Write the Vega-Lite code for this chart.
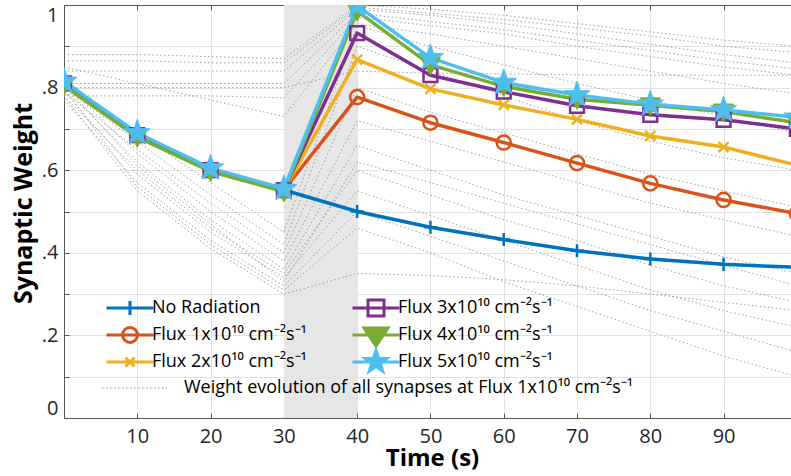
{
  "$schema": "https://vega.github.io/schema/vega-lite/v6.json",
  "width": 727,
  "height": 413,
  "autosize": {"type": "none"},
  "padding": {"left": 64, "top": 5, "right": 0, "bottom": 58},
  "background": "white",
  "config": {"font": "Open Sans", "view": {"stroke": null}},
  "datasets": {
    "main": [
      {"s": "No Radiation", "t": 0, "w": 0.81}, {"s": "No Radiation", "t": 10, "w": 0.685}, {"s": "No Radiation", "t": 20, "w": 0.6}, {"s": "No Radiation", "t": 30, "w": 0.552}, {"s": "No Radiation", "t": 40, "w": 0.5}, {"s": "No Radiation", "t": 50, "w": 0.462}, {"s": "No Radiation", "t": 60, "w": 0.432}, {"s": "No Radiation", "t": 70, "w": 0.405}, {"s": "No Radiation", "t": 80, "w": 0.385}, {"s": "No Radiation", "t": 90, "w": 0.372}, {"s": "No Radiation", "t": 100, "w": 0.365},
      {"s": "Flux 1x10¹⁰ cm⁻²s⁻¹", "t": 0, "w": 0.81}, {"s": "Flux 1x10¹⁰ cm⁻²s⁻¹", "t": 10, "w": 0.685}, {"s": "Flux 1x10¹⁰ cm⁻²s⁻¹", "t": 20, "w": 0.6}, {"s": "Flux 1x10¹⁰ cm⁻²s⁻¹", "t": 30, "w": 0.552}, {"s": "Flux 1x10¹⁰ cm⁻²s⁻¹", "t": 40, "w": 0.777}, {"s": "Flux 1x10¹⁰ cm⁻²s⁻¹", "t": 50, "w": 0.715}, {"s": "Flux 1x10¹⁰ cm⁻²s⁻¹", "t": 60, "w": 0.667}, {"s": "Flux 1x10¹⁰ cm⁻²s⁻¹", "t": 70, "w": 0.617}, {"s": "Flux 1x10¹⁰ cm⁻²s⁻¹", "t": 80, "w": 0.568}, {"s": "Flux 1x10¹⁰ cm⁻²s⁻¹", "t": 90, "w": 0.528}, {"s": "Flux 1x10¹⁰ cm⁻²s⁻¹", "t": 100, "w": 0.495},
      {"s": "Flux 2x10¹⁰ cm⁻²s⁻¹", "t": 0, "w": 0.81}, {"s": "Flux 2x10¹⁰ cm⁻²s⁻¹", "t": 10, "w": 0.685}, {"s": "Flux 2x10¹⁰ cm⁻²s⁻¹", "t": 20, "w": 0.6}, {"s": "Flux 2x10¹⁰ cm⁻²s⁻¹", "t": 30, "w": 0.552}, {"s": "Flux 2x10¹⁰ cm⁻²s⁻¹", "t": 40, "w": 0.868}, {"s": "Flux 2x10¹⁰ cm⁻²s⁻¹", "t": 50, "w": 0.797}, {"s": "Flux 2x10¹⁰ cm⁻²s⁻¹", "t": 60, "w": 0.758}, {"s": "Flux 2x10¹⁰ cm⁻²s⁻¹", "t": 70, "w": 0.723}, {"s": "Flux 2x10¹⁰ cm⁻²s⁻¹", "t": 80, "w": 0.683}, {"s": "Flux 2x10¹⁰ cm⁻²s⁻¹", "t": 90, "w": 0.656}, {"s": "Flux 2x10¹⁰ cm⁻²s⁻¹", "t": 100, "w": 0.612},
      {"s": "Flux 3x10¹⁰ cm⁻²s⁻¹", "t": 0, "w": 0.81}, {"s": "Flux 3x10¹⁰ cm⁻²s⁻¹", "t": 10, "w": 0.685}, {"s": "Flux 3x10¹⁰ cm⁻²s⁻¹", "t": 20, "w": 0.6}, {"s": "Flux 3x10¹⁰ cm⁻²s⁻¹", "t": 30, "w": 0.552}, {"s": "Flux 3x10¹⁰ cm⁻²s⁻¹", "t": 40, "w": 0.932}, {"s": "Flux 3x10¹⁰ cm⁻²s⁻¹", "t": 50, "w": 0.83}, {"s": "Flux 3x10¹⁰ cm⁻²s⁻¹", "t": 60, "w": 0.79}, {"s": "Flux 3x10¹⁰ cm⁻²s⁻¹", "t": 70, "w": 0.756}, {"s": "Flux 3x10¹⁰ cm⁻²s⁻¹", "t": 80, "w": 0.734}, {"s": "Flux 3x10¹⁰ cm⁻²s⁻¹", "t": 90, "w": 0.722}, {"s": "Flux 3x10¹⁰ cm⁻²s⁻¹", "t": 100, "w": 0.7},
      {"s": "Flux 4x10¹⁰ cm⁻²s⁻¹", "t": 0, "w": 0.805}, {"s": "Flux 4x10¹⁰ cm⁻²s⁻¹", "t": 10, "w": 0.68}, {"s": "Flux 4x10¹⁰ cm⁻²s⁻¹", "t": 20, "w": 0.597}, {"s": "Flux 4x10¹⁰ cm⁻²s⁻¹", "t": 30, "w": 0.548}, {"s": "Flux 4x10¹⁰ cm⁻²s⁻¹", "t": 40, "w": 0.985}, {"s": "Flux 4x10¹⁰ cm⁻²s⁻¹", "t": 50, "w": 0.855}, {"s": "Flux 4x10¹⁰ cm⁻²s⁻¹", "t": 60, "w": 0.803}, {"s": "Flux 4x10¹⁰ cm⁻²s⁻¹", "t": 70, "w": 0.772}, {"s": "Flux 4x10¹⁰ cm⁻²s⁻¹", "t": 80, "w": 0.757}, {"s": "Flux 4x10¹⁰ cm⁻²s⁻¹", "t": 90, "w": 0.742}, {"s": "Flux 4x10¹⁰ cm⁻²s⁻¹", "t": 100, "w": 0.715},
      {"s": "Flux 5x10¹⁰ cm⁻²s⁻¹", "t": 0, "w": 0.815}, {"s": "Flux 5x10¹⁰ cm⁻²s⁻¹", "t": 10, "w": 0.69}, {"s": "Flux 5x10¹⁰ cm⁻²s⁻¹", "t": 20, "w": 0.605}, {"s": "Flux 5x10¹⁰ cm⁻²s⁻¹", "t": 30, "w": 0.555}, {"s": "Flux 5x10¹⁰ cm⁻²s⁻¹", "t": 40, "w": 0.998}, {"s": "Flux 5x10¹⁰ cm⁻²s⁻¹", "t": 50, "w": 0.872}, {"s": "Flux 5x10¹⁰ cm⁻²s⁻¹", "t": 60, "w": 0.812}, {"s": "Flux 5x10¹⁰ cm⁻²s⁻¹", "t": 70, "w": 0.782}, {"s": "Flux 5x10¹⁰ cm⁻²s⁻¹", "t": 80, "w": 0.76}, {"s": "Flux 5x10¹⁰ cm⁻²s⁻¹", "t": 90, "w": 0.746}, {"s": "Flux 5x10¹⁰ cm⁻²s⁻¹", "t": 100, "w": 0.728}
    ],
    "syn": [
      {"id": "U1", "t": 0, "w": 0.88}, {"id": "U1", "t": 10, "w": 0.88}, {"id": "U1", "t": 20, "w": 0.875}, {"id": "U1", "t": 30, "w": 0.87}, {"id": "U1", "t": 40, "w": 1.0}, {"id": "U1", "t": 50, "w": 0.99}, {"id": "U1", "t": 60, "w": 0.975}, {"id": "U1", "t": 70, "w": 0.955}, {"id": "U1", "t": 80, "w": 0.935}, {"id": "U1", "t": 90, "w": 0.915}, {"id": "U1", "t": 100, "w": 0.9},
      {"id": "U2", "t": 0, "w": 0.865}, {"id": "U2", "t": 10, "w": 0.865}, {"id": "U2", "t": 20, "w": 0.86}, {"id": "U2", "t": 30, "w": 0.86}, {"id": "U2", "t": 40, "w": 0.995}, {"id": "U2", "t": 50, "w": 0.98}, {"id": "U2", "t": 60, "w": 0.965}, {"id": "U2", "t": 70, "w": 0.945}, {"id": "U2", "t": 80, "w": 0.925}, {"id": "U2", "t": 90, "w": 0.9}, {"id": "U2", "t": 100, "w": 0.885},
      {"id": "U3", "t": 0, "w": 0.84}, {"id": "U3", "t": 10, "w": 0.84}, {"id": "U3", "t": 20, "w": 0.84}, {"id": "U3", "t": 30, "w": 0.84}, {"id": "U3", "t": 40, "w": 0.99}, {"id": "U3", "t": 50, "w": 0.975}, {"id": "U3", "t": 60, "w": 0.955}, {"id": "U3", "t": 70, "w": 0.93}, {"id": "U3", "t": 80, "w": 0.905}, {"id": "U3", "t": 90, "w": 0.88}, {"id": "U3", "t": 100, "w": 0.86},
      {"id": "U4", "t": 0, "w": 0.81}, {"id": "U4", "t": 10, "w": 0.81}, {"id": "U4", "t": 20, "w": 0.81}, {"id": "U4", "t": 30, "w": 0.81}, {"id": "U4", "t": 40, "w": 0.98}, {"id": "U4", "t": 50, "w": 0.96}, {"id": "U4", "t": 60, "w": 0.94}, {"id": "U4", "t": 70, "w": 0.915}, {"id": "U4", "t": 80, "w": 0.89}, {"id": "U4", "t": 90, "w": 0.865}, {"id": "U4", "t": 100, "w": 0.845},
      {"id": "U5", "t": 0, "w": 0.78}, {"id": "U5", "t": 10, "w": 0.78}, {"id": "U5", "t": 20, "w": 0.78}, {"id": "U5", "t": 30, "w": 0.775}, {"id": "U5", "t": 40, "w": 0.97}, {"id": "U5", "t": 50, "w": 0.95}, {"id": "U5", "t": 60, "w": 0.93}, {"id": "U5", "t": 70, "w": 0.9}, {"id": "U5", "t": 80, "w": 0.875}, {"id": "U5", "t": 90, "w": 0.85}, {"id": "U5", "t": 100, "w": 0.83},
      {"id": "U6", "t": 0, "w": 0.85}, {"id": "U6", "t": 10, "w": 0.81}, {"id": "U6", "t": 20, "w": 0.77}, {"id": "U6", "t": 30, "w": 0.73}, {"id": "U6", "t": 40, "w": 0.955}, {"id": "U6", "t": 50, "w": 0.93}, {"id": "U6", "t": 60, "w": 0.9}, {"id": "U6", "t": 70, "w": 0.87}, {"id": "U6", "t": 80, "w": 0.84}, {"id": "U6", "t": 90, "w": 0.81}, {"id": "U6", "t": 100, "w": 0.785},
      {"id": "U7", "t": 0, "w": 0.8}, {"id": "U7", "t": 10, "w": 0.8}, {"id": "U7", "t": 20, "w": 0.8}, {"id": "U7", "t": 30, "w": 0.8}, {"id": "U7", "t": 40, "w": 0.84}, {"id": "U7", "t": 50, "w": 0.835}, {"id": "U7", "t": 60, "w": 0.833}, {"id": "U7", "t": 70, "w": 0.831}, {"id": "U7", "t": 80, "w": 0.83}, {"id": "U7", "t": 90, "w": 0.83}, {"id": "U7", "t": 100, "w": 0.83},
      {"id": "L1", "t": 0, "w": 0.82}, {"id": "L1", "t": 10, "w": 0.69}, {"id": "L1", "t": 20, "w": 0.57}, {"id": "L1", "t": 30, "w": 0.45}, {"id": "L1", "t": 40, "w": 0.95}, {"id": "L1", "t": 50, "w": 0.9}, {"id": "L1", "t": 60, "w": 0.855}, {"id": "L1", "t": 70, "w": 0.81}, {"id": "L1", "t": 80, "w": 0.77}, {"id": "L1", "t": 90, "w": 0.73}, {"id": "L1", "t": 100, "w": 0.69},
      {"id": "L2", "t": 0, "w": 0.8}, {"id": "L2", "t": 10, "w": 0.67}, {"id": "L2", "t": 20, "w": 0.54}, {"id": "L2", "t": 30, "w": 0.42}, {"id": "L2", "t": 40, "w": 0.9}, {"id": "L2", "t": 50, "w": 0.84}, {"id": "L2", "t": 60, "w": 0.78}, {"id": "L2", "t": 70, "w": 0.72}, {"id": "L2", "t": 80, "w": 0.67}, {"id": "L2", "t": 90, "w": 0.63}, {"id": "L2", "t": 100, "w": 0.6},
      {"id": "L3", "t": 0, "w": 0.79}, {"id": "L3", "t": 10, "w": 0.65}, {"id": "L3", "t": 20, "w": 0.52}, {"id": "L3", "t": 30, "w": 0.4}, {"id": "L3", "t": 40, "w": 0.8}, {"id": "L3", "t": 50, "w": 0.74}, {"id": "L3", "t": 60, "w": 0.69}, {"id": "L3", "t": 70, "w": 0.64}, {"id": "L3", "t": 80, "w": 0.59}, {"id": "L3", "t": 90, "w": 0.55}, {"id": "L3", "t": 100, "w": 0.51},
      {"id": "L4", "t": 0, "w": 0.81}, {"id": "L4", "t": 10, "w": 0.64}, {"id": "L4", "t": 20, "w": 0.5}, {"id": "L4", "t": 30, "w": 0.38}, {"id": "L4", "t": 40, "w": 0.72}, {"id": "L4", "t": 50, "w": 0.67}, {"id": "L4", "t": 60, "w": 0.62}, {"id": "L4", "t": 70, "w": 0.57}, {"id": "L4", "t": 80, "w": 0.52}, {"id": "L4", "t": 90, "w": 0.48}, {"id": "L4", "t": 100, "w": 0.44},
      {"id": "L5", "t": 0, "w": 0.8}, {"id": "L5", "t": 10, "w": 0.62}, {"id": "L5", "t": 20, "w": 0.48}, {"id": "L5", "t": 30, "w": 0.36}, {"id": "L5", "t": 40, "w": 0.66}, {"id": "L5", "t": 50, "w": 0.6}, {"id": "L5", "t": 60, "w": 0.54}, {"id": "L5", "t": 70, "w": 0.49}, {"id": "L5", "t": 80, "w": 0.44}, {"id": "L5", "t": 90, "w": 0.39}, {"id": "L5", "t": 100, "w": 0.35},
      {"id": "L6", "t": 0, "w": 0.78}, {"id": "L6", "t": 10, "w": 0.6}, {"id": "L6", "t": 20, "w": 0.46}, {"id": "L6", "t": 30, "w": 0.35}, {"id": "L6", "t": 40, "w": 0.6}, {"id": "L6", "t": 50, "w": 0.54}, {"id": "L6", "t": 60, "w": 0.48}, {"id": "L6", "t": 70, "w": 0.43}, {"id": "L6", "t": 80, "w": 0.37}, {"id": "L6", "t": 90, "w": 0.32}, {"id": "L6", "t": 100, "w": 0.28},
      {"id": "L7", "t": 0, "w": 0.79}, {"id": "L7", "t": 10, "w": 0.59}, {"id": "L7", "t": 20, "w": 0.45}, {"id": "L7", "t": 30, "w": 0.34}, {"id": "L7", "t": 40, "w": 0.55}, {"id": "L7", "t": 50, "w": 0.49}, {"id": "L7", "t": 60, "w": 0.43}, {"id": "L7", "t": 70, "w": 0.37}, {"id": "L7", "t": 80, "w": 0.31}, {"id": "L7", "t": 90, "w": 0.26}, {"id": "L7", "t": 100, "w": 0.22},
      {"id": "L8", "t": 0, "w": 0.77}, {"id": "L8", "t": 10, "w": 0.57}, {"id": "L8", "t": 20, "w": 0.43}, {"id": "L8", "t": 30, "w": 0.32}, {"id": "L8", "t": 40, "w": 0.5}, {"id": "L8", "t": 50, "w": 0.44}, {"id": "L8", "t": 60, "w": 0.38}, {"id": "L8", "t": 70, "w": 0.32}, {"id": "L8", "t": 80, "w": 0.26}, {"id": "L8", "t": 90, "w": 0.21}, {"id": "L8", "t": 100, "w": 0.16},
      {"id": "L9", "t": 0, "w": 0.8}, {"id": "L9", "t": 10, "w": 0.56}, {"id": "L9", "t": 20, "w": 0.42}, {"id": "L9", "t": 30, "w": 0.31}, {"id": "L9", "t": 40, "w": 0.46}, {"id": "L9", "t": 50, "w": 0.4}, {"id": "L9", "t": 60, "w": 0.33}, {"id": "L9", "t": 70, "w": 0.27}, {"id": "L9", "t": 80, "w": 0.21}, {"id": "L9", "t": 90, "w": 0.15}, {"id": "L9", "t": 100, "w": 0.1},
      {"id": "L10", "t": 0, "w": 0.78}, {"id": "L10", "t": 10, "w": 0.55}, {"id": "L10", "t": 20, "w": 0.41}, {"id": "L10", "t": 30, "w": 0.3}, {"id": "L10", "t": 40, "w": 0.35}, {"id": "L10", "t": 50, "w": 0.345}, {"id": "L10", "t": 60, "w": 0.335}, {"id": "L10", "t": 70, "w": 0.32}, {"id": "L10", "t": 80, "w": 0.3}, {"id": "L10", "t": 90, "w": 0.28}, {"id": "L10", "t": 100, "w": 0.26},
      {"id": "L11", "t": 0, "w": 0.81}, {"id": "L11", "t": 10, "w": 0.61}, {"id": "L11", "t": 20, "w": 0.47}, {"id": "L11", "t": 30, "w": 0.33}, {"id": "L11", "t": 40, "w": 0.62}, {"id": "L11", "t": 50, "w": 0.57}, {"id": "L11", "t": 60, "w": 0.52}, {"id": "L11", "t": 70, "w": 0.47}, {"id": "L11", "t": 80, "w": 0.42}, {"id": "L11", "t": 90, "w": 0.37}, {"id": "L11", "t": 100, "w": 0.32}
    ]
  },
  "resolve": {"axis": {"x": "independent"}},
  "layer": [
    {
      "data": {"values": [{"start": 30, "end": 40}]},
      "mark": {"type": "rect", "color": "#e6e6e6"},
      "encoding": {
        "x": {"field": "start", "type": "quantitative", "scale": {"domain": [0, 99.2], "nice": false, "zero": false},
          "axis": {"orient": "top", "values": [10, 20, 30, 40, 50, 60, 70, 80, 90], "labels": false, "ticks": true, "tickSize": -5, "tickColor": "#555", "domainColor": "#555", "grid": false, "title": null}},
        "x2": {"field": "end"}
      }
    },
    {
      "data": {"name": "syn"},
      "mark": {"type": "line", "clip": true, "color": "#8a8a8a", "strokeWidth": 1, "opacity": 0.8},
      "encoding": {
        "x": {"field": "t", "type": "quantitative", "scale": {"domain": [0, 99.2], "nice": false, "zero": false},
          "axis": {"orient": "bottom", "values": [0, 10, 20, 30, 40, 50, 60, 70, 80, 90], "labelExpr": "datum.value == 0 ? '' : datum.label", "labelFlush": false, "labelOverlap": false,
            "title": "Time (s)", "titleX": 368, "titleY": 47, "titleBaseline": "alphabetic", "titleFontSize": 24, "titleFontWeight": "bold", "titleColor": "#000", "titleFont": "Open Sans",
            "labelFont": "Open Sans", "labelFontSize": 20, "labelColor": "#262626", "labelPadding": 13, "tickSize": -5, "tickColor": "#555", "domainColor": "#555", "grid": true, "gridColor": "#e2e2e2"}},
        "y": {"field": "w", "type": "quantitative", "scale": {"domain": [0, 1], "nice": false, "zero": false},
          "axis": {"values": [0, 0.1, 0.2, 0.3, 0.4, 0.5, 0.6, 0.7, 0.8, 0.9, 1], "labelExpr": "datum.value == 0 ? '0' : datum.value == 1 ? '1' : (round(datum.value * 10) % 2 == 0 ? replace(format(datum.value, '.1f'), '0.', '.') : '')",
            "labelFlush": true, "labelOverlap": false, "title": "Synaptic Weight", "titleX": -33, "titleY": 198, "titleBaseline": "alphabetic", "titleFontSize": 25, "titleFontWeight": "bold", "titleColor": "#000", "titleFont": "Open Sans",
            "labelFont": "Open Sans", "labelFontSize": 20, "labelColor": "#262626", "labelPadding": 11, "tickSize": -5, "tickColor": "#555", "domainColor": "#555", "grid": true, "gridColor": "#e2e2e2"}},
        "detail": {"field": "id", "type": "nominal"},
        "strokeDash": {"datum": "Weight evolution of all synapses at Flux 1x10¹⁰ cm⁻²s⁻¹", "type": "nominal", "scale": {"range": [[1.5, 2.5]]},
          "legend": {"orient": "none", "legendX": 41, "legendY": 374, "title": null, "padding": 0, "symbolType": "M-6.5,0H6.5", "symbolSize": 100, "symbolStrokeColor": "#777", "symbolStrokeWidth": 1.2, "symbolOffset": 20.5, "labelOffset": 40.5, "labelFont": "Open Sans", "labelFontSize": 18, "labelColor": "#000", "labelLimit": 600}}
      }
    },
    {
      "data": {"name": "main"},
      "mark": {"type": "line", "clip": true, "strokeWidth": 3.5, "strokeJoin": "round"},
      "encoding": {
        "x": {"field": "t", "type": "quantitative", "scale": {"domain": [0, 99.2], "nice": false, "zero": false}, "axis": null},
        "y": {"field": "w", "type": "quantitative"},
        "color": {"field": "s", "type": "nominal",
          "scale": {"domain": ["No Radiation", "Flux 1x10¹⁰ cm⁻²s⁻¹", "Flux 2x10¹⁰ cm⁻²s⁻¹", "Flux 3x10¹⁰ cm⁻²s⁻¹", "Flux 4x10¹⁰ cm⁻²s⁻¹", "Flux 5x10¹⁰ cm⁻²s⁻¹"],
            "range": ["#0072BD", "#D95319", "#EDB120", "#7E2F8E", "#77AC30", "#4DBEEE"]},
          "legend": {"orient": "none", "legendX": 41, "legendY": 294, "title": null, "padding": 0, "columns": 2,
            "symbolType": "M-4.7,0H4.7", "symbolSize": 100, "symbolStrokeWidth": 3, "symbolOffset": 16, "labelOffset": 13,
            "labelFont": "Open Sans", "labelFontSize": 18, "labelColor": "#000", "labelLimit": 400, "rowPadding": -10, "columnPadding": 39,
            "encode": {"symbols": {"update": {
              "shape": {"signal": "(datum.value === 'No Radiation' ? 'M-4.7,0H4.7M0,-1.4V1.4' : indexof(datum.value, '1x') >= 0 ? 'M-4.7,0H4.7M-1.5,0A1.5,1.5,0,1,0,1.5,0A1.5,1.5,0,1,0,-1.5,0' : indexof(datum.value, '2x') >= 0 ? 'M-4.7,0H4.7M-0.9,-0.9L0.9,0.9M-0.9,0.9L0.9,-0.9' : indexof(datum.value, '3x') >= 0 ? 'M-4.7,0H4.7M-1.6,-1.6H1.6V1.6H-1.6Z' : indexof(datum.value, '4x') >= 0 ? 'M-4.7,0H4.7M-2.4,-1.4H2.4L0,2.2Z' : 'M-4.7,0H4.7M0,-2.3L0.54,-0.75L2.19,-0.71L0.87,0.29L1.35,1.86L0,0.92L-1.35,1.86L-0.87,0.29L-2.19,-0.71L-0.54,-0.75Z') + 'M0,-2.4L0,-2.4M0,2.4L0,2.4'"},
              "fill": {"signal": "indexof(datum.value, '4x') >= 0 || indexof(datum.value, '5x') >= 0 ? scale('color', datum.value) : 'transparent'"}
            }}}}
        }
      }
    },
    {
      "data": {"name": "main"},
      "transform": [{"filter": "datum.s === 'No Radiation'"}],
      "mark": {"type": "point", "clip": true, "shape": "M-1,0H1M0,-1V1", "size": 170, "filled": false, "stroke": "#0072BD", "strokeWidth": 2.5, "opacity": 1},
      "encoding": {"x": {"field": "t", "type": "quantitative", "axis": null}, "y": {"field": "w", "type": "quantitative"}}
    },
    {
      "data": {"name": "main"},
      "transform": [{"filter": "datum.s === 'Flux 1x10¹⁰ cm⁻²s⁻¹'"}],
      "mark": {"type": "point", "clip": true, "shape": "circle", "size": 200, "filled": false, "stroke": "#D95319", "strokeWidth": 2.5, "opacity": 1},
      "encoding": {"x": {"field": "t", "type": "quantitative", "axis": null}, "y": {"field": "w", "type": "quantitative"}}
    },
    {
      "data": {"name": "main"},
      "transform": [{"filter": "datum.s === 'Flux 2x10¹⁰ cm⁻²s⁻¹'"}],
      "mark": {"type": "point", "clip": true, "shape": "M-1,-1L1,1M-1,1L1,-1", "size": 100, "filled": false, "stroke": "#EDB120", "strokeWidth": 2.5, "opacity": 1},
      "encoding": {"x": {"field": "t", "type": "quantitative", "axis": null}, "y": {"field": "w", "type": "quantitative"}}
    },
    {
      "data": {"name": "main"},
      "transform": [{"filter": "datum.s === 'Flux 3x10¹⁰ cm⁻²s⁻¹'"}],
      "mark": {"type": "point", "clip": true, "shape": "square", "size": 190, "filled": false, "stroke": "#7E2F8E", "strokeWidth": 2.5, "opacity": 1},
      "encoding": {"x": {"field": "t", "type": "quantitative", "axis": null}, "y": {"field": "w", "type": "quantitative"}}
    },
    {
      "data": {"name": "main"},
      "transform": [{"filter": "datum.s === 'Flux 4x10¹⁰ cm⁻²s⁻¹'"}],
      "mark": {"type": "point", "clip": true, "shape": "M-1,-0.75H1L0,1Z", "size": 400, "filled": true, "fill": "#77AC30", "stroke": "#77AC30", "strokeWidth": 1, "opacity": 1},
      "encoding": {"x": {"field": "t", "type": "quantitative", "axis": null}, "y": {"field": "w", "type": "quantitative"}}
    },
    {
      "data": {"name": "main"},
      "transform": [{"filter": "datum.s === 'Flux 5x10¹⁰ cm⁻²s⁻¹'"}],
      "mark": {"type": "point", "clip": true, "shape": "M0,-1L0.235,-0.324L0.951,-0.309L0.38,0.124L0.588,0.809L0,0.4L-0.588,0.809L-0.38,0.124L-0.951,-0.309L-0.235,-0.324Z", "size": 750, "filled": true, "fill": "#4DBEEE", "stroke": "#4DBEEE", "strokeWidth": 1, "opacity": 1},
      "encoding": {"x": {"field": "t", "type": "quantitative", "axis": null}, "y": {"field": "w", "type": "quantitative"}}
    }
  ]
}
